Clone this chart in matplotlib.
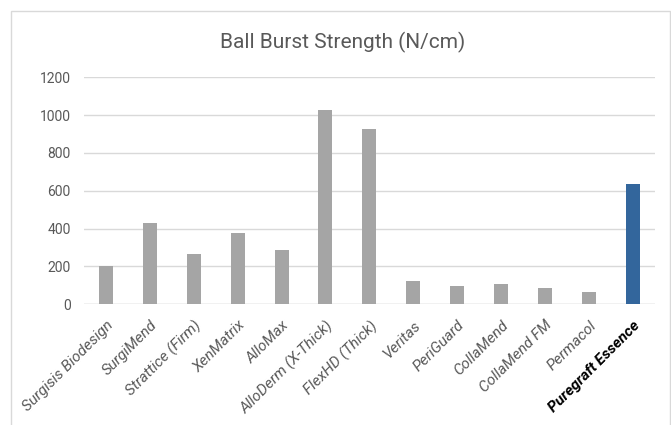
import numpy as np
import matplotlib
matplotlib.use("Agg")
import matplotlib.pyplot as plt
from matplotlib.patches import Rectangle

# Data
products = ["Surgisis Biodesign", "SurgiMend", "Strattice (Firm)", "XenMatrix",
            "AlloMax", "AlloDerm (X-Thick)", "FlexHD (Thick)", "Veritas",
            "PeriGuard", "CollaMend", "CollaMend FM", "Permacol",
            "Puregraft Essence"]
strength = [200, 430, 268, 375, 289, 1026, 927, 125, 97, 107, 85, 63, 634]
highlight = "Puregraft Essence"

plt.rcParams['font.family'] = ['Roboto', 'DejaVu Sans']

fig = plt.figure(figsize=(6.71, 4.25), dpi=100)
ax = fig.add_axes([0.125, 0.284, 0.851, 0.534])

# Chart border
fig.patches.append(Rectangle((11 / 671, -0.1), 659 / 671, 1.1 - 11 / 425,
                             transform=fig.transFigure, fill=False,
                             edgecolor='#D9D9D9', linewidth=1.0))

x = np.arange(len(products))
colors = ['#33669C' if p == highlight else '#A5A5A5' for p in products]
ax.bar(x, strength, width=0.32, color=colors, zorder=3)

ax.set_xlim(-0.5, len(products) - 0.5)
ax.set_ylim(0, 1200)
ax.set_yticks(range(0, 1201, 200))
ax.yaxis.grid(True, color='#D9D9D9', linewidth=1.0, zorder=0)
for s in ax.spines.values():
    s.set_visible(False)
ax.axhline(0, color='#D9D9D9', linewidth=1.0, zorder=2)
ax.tick_params(axis='both', length=0, colors='#595959', labelsize=10)
ax.tick_params(axis='y', pad=9.5)

ax.set_xticks(x)
ax.set_xticklabels(products, rotation=45, ha='right', va='top',
                   rotation_mode='anchor', fontstyle='italic', fontsize=11)
for lbl in ax.get_xticklabels():
    lbl.set_color('#595959')
    if lbl.get_text() == highlight:
        lbl.set_color('black')
        lbl.set_fontweight('bold')
ax.tick_params(axis='x', pad=10)

fig.text(0.51, 0.9, "Ball Burst Strength (N/cm)", ha='center', va='center',
         fontsize=15, color='#595959')

fig.savefig("out.png", dpi=100)
